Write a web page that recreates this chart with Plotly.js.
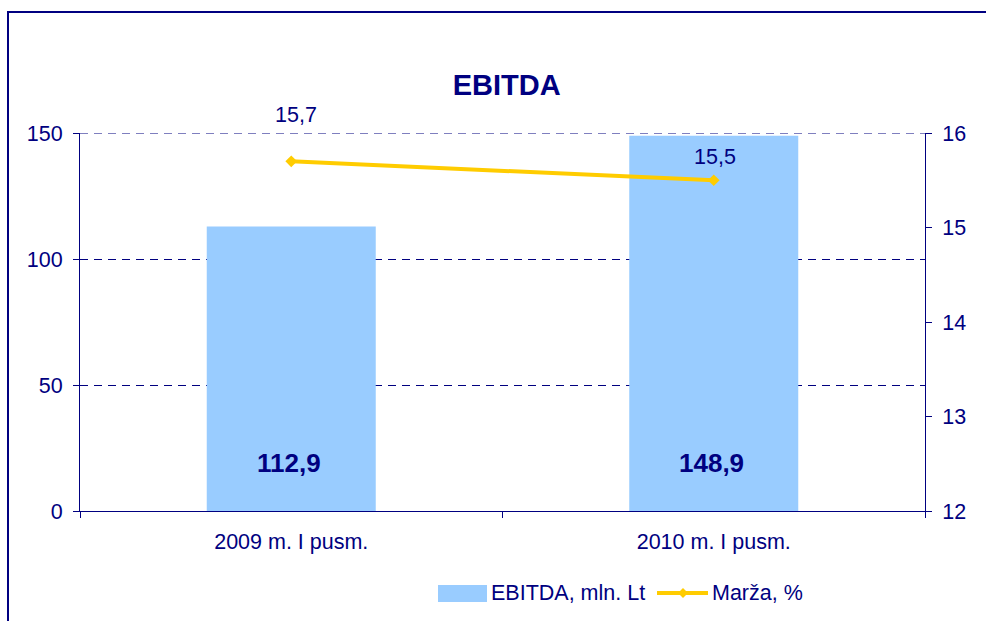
<!DOCTYPE html>
<html>
<head>
<meta charset="utf-8">
<script src="https://cdn.plot.ly/plotly-3.0.1.min.js"></script>
<style>
  body { margin: 0; background: #fff; }
  #wrap { position: relative; width: 986px; height: 621px; overflow: hidden; }
  #frame { position: absolute; left: 7px; top: 11px; width: 1000px; height: 700px;
           border-left: 2px solid #000080; border-top: 2px solid #000080; pointer-events: none; }
  #chart { position: absolute; left: 0; top: 0; width: 986px; height: 621px; }
</style>
</head>
<body>
<div id="wrap">
  <div id="chart"></div>
  <div id="frame"></div>
</div>
<script>
var periods = ['2009 m. I pusm.', '2010 m. I pusm.'];
var ebitda = [112.9, 148.9];
var marza = [15.7, 15.5];
var seriesNames = ['EBITDA, mln. Lt', 'Marža, %'];

var navy = '#000080';
var barColor = '#99CCFF';
var lineColor = '#FFCC00';
var font = 'Arial, "Liberation Sans", sans-serif';
var fs = 21.5;

function lt(v) { return v.toFixed(1).replace('.', ','); }

// plot area in pixels: left 80, right 925, top 133, bottom 511
function px(x) { return (x - 80) / 845; }
function py(y) { return (511 - y) / 378; }

var barTrace = {
  x: periods,
  y: ebitda,
  type: 'bar',
  name: seriesNames[0],
  marker: {color: barColor},
  hoverinfo: 'none'
};

var lineTrace = {
  x: periods,
  y: marza,
  type: 'scatter',
  mode: 'lines+markers',
  name: seriesNames[1],
  yaxis: 'y2',
  line: {color: lineColor, width: 4},
  marker: {symbol: 'diamond', size: 9, color: lineColor},
  hoverinfo: 'none'
};

// value labels
var notes = [];
ebitda.forEach(function(v, i) {
  notes.push({
    x: periods[i], y: 0, xref: 'x', yref: 'y',
    text: '<b>' + lt(v) + '</b>', showarrow: false,
    yanchor: 'middle', yshift: 48, xshift: -2,
    font: {family: font, size: 26, color: navy}
  });
});
var lift = [46, 23];
marza.forEach(function(v, i) {
  notes.push({
    x: periods[i], y: v, xref: 'x', yref: 'y2',
    text: lt(v), showarrow: false,
    yanchor: 'middle', yshift: lift[i], xshift: i == 0 ? 5 : 1,
    font: {family: font, size: fs, color: navy}
  });
});

// legend (drawn by hand to get Excel-like swatches)
notes.push({xref: 'paper', yref: 'paper', x: px(489), y: py(593), xanchor: 'left', yanchor: 'middle',
  text: seriesNames[0], showarrow: false, font: {family: font, size: fs, color: navy}});
notes.push({xref: 'paper', yref: 'paper', x: px(710), y: py(593), xanchor: 'left', yanchor: 'middle',
  text: seriesNames[1], showarrow: false, font: {family: font, size: fs, color: navy}});

var shapes = [
  // top gridline at 150
  {type: 'line', xref: 'paper', yref: 'y', x0: 0, x1: 1, y0: 150, y1: 150,
   line: {color: navy, width: 1, dash: '8px,6px'}},
  // legend swatches
  {type: 'rect', xref: 'paper', yref: 'paper', x0: px(438), x1: px(487), y0: py(602), y1: py(585),
   fillcolor: barColor, line: {width: 0}},
  {type: 'line', xref: 'paper', yref: 'paper', x0: px(657), x1: px(708), y0: py(593), y1: py(593),
   line: {color: lineColor, width: 4}},
  {type: 'path', xref: 'paper', yref: 'paper',
   path: 'M ' + px(683) + ' ' + py(588) + ' L ' + px(688) + ' ' + py(593) + ' L ' + px(683) + ' ' + py(598) +
         ' L ' + px(678) + ' ' + py(593) + ' Z',
   fillcolor: lineColor, line: {width: 0}}
];

var layout = {
  width: 986,
  height: 621,
  margin: {l: 80, r: 61, t: 133, b: 110, autoexpand: false},
  paper_bgcolor: 'rgba(0,0,0,0)',
  plot_bgcolor: '#fff',
  font: {family: font, size: fs, color: navy},
  title: {
    text: '<b>EBITDA</b>',
    font: {family: font, size: 29, color: navy},
    x: 0.505, xref: 'paper', xanchor: 'center',
    y: 0.863, yref: 'container', yanchor: 'middle'
  },
  bargap: 0.6,
  showlegend: false,
  xaxis: {
    type: 'category',
    showgrid: false,
    showline: true, linecolor: navy, linewidth: 1,
    ticks: 'outside', tickson: 'boundaries', ticklen: 6, tickcolor: navy,
    ticklabelstandoff: 11,
    tickfont: {family: font, size: fs, color: navy},
    fixedrange: true
  },
  yaxis: {
    range: [0, 150],
    dtick: 50,
    showline: true, linecolor: navy, linewidth: 1,
    ticks: 'outside', ticklen: 6, tickcolor: navy,
    ticklabelstandoff: 6,
    gridcolor: navy, griddash: '8px,6px', gridwidth: 1,
    zeroline: false,
    tickfont: {family: font, size: fs, color: navy},
    fixedrange: true
  },
  yaxis2: {
    overlaying: 'y',
    side: 'right',
    range: [12, 16],
    dtick: 1,
    showgrid: false,
    zeroline: false,
    showline: true, linecolor: navy, linewidth: 1,
    ticks: 'outside', ticklen: 6, tickcolor: navy,
    ticklabelstandoff: 6,
    tickfont: {family: font, size: fs, color: navy},
    fixedrange: true
  },
  shapes: shapes,
  annotations: notes
};

Plotly.newPlot('chart', [barTrace, lineTrace], layout, {displayModeBar: false, staticPlot: true});
</script>
</body>
</html>
